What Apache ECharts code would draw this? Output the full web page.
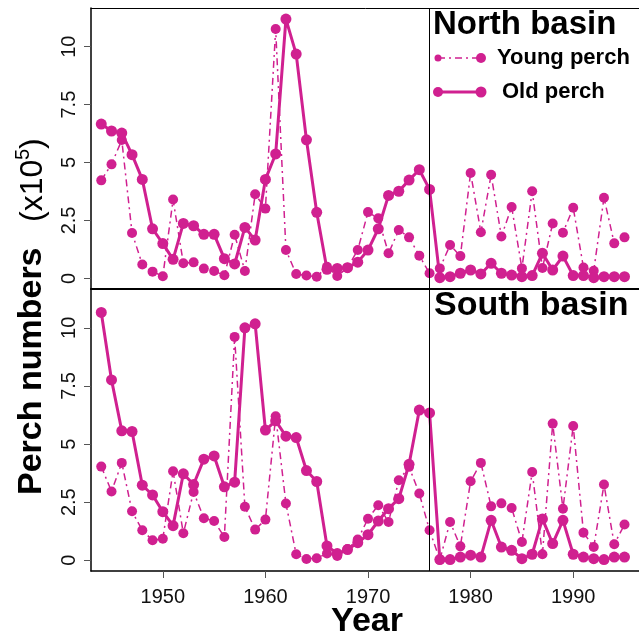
<!DOCTYPE html>
<html>
<head>
<meta charset="utf-8">
<script src="https://cdn.jsdelivr.net/npm/echarts@6/dist/echarts.min.js"></script>
<style>
  html, body { margin: 0; padding: 0; background: #fff; }
  #chart { width: 639px; height: 637px; }
</style>
</head>
<body>
<div id="chart"></div>
<script>
// data (perch numbers x10^5)
const years = [];
for (let y = 1944; y <= 1995; y++) years.push(y);

const northYoung = [4.23, 4.92, 5.97, 1.96, 0.60, 0.29, 0.09, 3.40, 0.65, 0.69,
  0.42, 0.32, 0.13, 1.88, 0.32, 3.63, 3.01, 10.76, 1.22, 0.19,
  0.12, 0.07, 0.50, 0.10, 0.46, 1.22, 2.86, 2.59, 1.08, 2.09,
  1.77, 0.98, 0.22, 0.43, 1.44, 0.96, 4.55, 1.99, 4.47, 1.81,
  3.08, 0.43, 3.76, 0.45, 2.37, 1.97, 3.05, 0.47, 0.33, 3.48,
  1.51, 1.77];
const northOld = [6.66, 6.36, 6.27, 5.34, 4.27, 2.14, 1.50, 0.82, 2.37, 2.27,
  1.90, 1.90, 0.85, 0.62, 2.20, 1.65, 4.27, 5.37, 11.19, 9.68,
  5.98, 2.85, 0.39, 0.43, 0.46, 0.70, 1.22, 2.14, 3.58, 3.76,
  4.24, 4.69, 3.84, 0.03, 0.07, 0.22, 0.36, 0.19, 0.65, 0.22,
  0.14, 0.07, 0.12, 1.08, 0.36, 0.96, 0.12, 0.12, 0.03, 0.07,
  0.07, 0.07];
const southYoung = [4.03, 2.96, 4.19, 2.11, 1.29, 0.86, 0.93, 3.83, 1.16, 2.94,
  1.81, 1.69, 1.00, 9.61, 2.30, 1.32, 1.75, 6.20, 2.44, 0.26,
  0.06, 0.09, 0.29, 0.19, 0.49, 0.89, 1.79, 2.37, 1.65, 3.44,
  4.02, 2.87, 1.29, 0.03, 1.65, 0.60, 3.40, 4.19, 2.32, 2.45,
  2.25, 0.79, 3.80, 0.26, 5.88, 2.22, 5.78, 1.19, 0.57, 3.26,
  0.69, 1.54];
const southOld = [10.66, 7.76, 5.57, 5.54, 3.23, 2.81, 2.09, 1.49, 3.72, 3.26,
  4.35, 4.49, 3.16, 3.36, 10.00, 10.17, 5.60, 6.00, 5.34, 5.28,
  3.86, 3.39, 0.62, 0.29, 0.46, 0.76, 1.10, 1.69, 2.22, 2.65,
  4.13, 6.46, 6.34, 0.03, 0.03, 0.14, 0.22, 0.14, 1.72, 0.57,
  0.43, 0.07, 0.26, 1.78, 0.72, 1.72, 0.26, 0.14, 0.07, 0.03,
  0.14, 0.14];

const xTicks = [1950, 1960, 1970, 1980, 1990];
const yTicks = [0, 2.5, 5, 7.5, 10];
const breakYear = 1976;

const pink = '#D02090';
const font = '"Liberation Sans", Arial, sans-serif';
const youngDash = [7, 4, 2, 4];

const pairs = (vals) => years.map((y, i) => [y, vals[i]]);

function xAxisFor(idx, labels, pos, lineWidth) {
  return {
    type: 'value', gridIndex: idx, min: 1943, max: 1996.9, position: pos,
    axisLine: { show: true, onZero: false, lineStyle: { color: '#000', width: lineWidth } },
    splitLine: { show: false },
    axisTick: { show: labels, customValues: xTicks, length: 7, lineStyle: { color: '#555' } },
    axisLabel: { show: labels, customValues: xTicks, margin: 16, color: '#111', fontSize: 20, fontFamily: font,
      formatter: (v) => String(v) }
  };
}

function yAxisFor(idx) {
  return {
    type: 'value', gridIndex: idx, min: -0.46, max: 11.67,
    axisLine: { show: true, onZero: false, lineStyle: { color: '#000', width: 1.5 } },
    splitLine: { show: false },
    axisTick: { show: true, customValues: yTicks, length: 7, lineStyle: { color: '#555' } },
    axisLabel: { customValues: yTicks, rotate: 90, margin: 12, color: '#111', fontSize: 20, fontFamily: font }
  };
}

function youngSeries(idx, vals) {
  return {
    type: 'line', xAxisIndex: idx, yAxisIndex: idx, data: pairs(vals),
    symbol: 'circle', symbolSize: 10, color: pink,
    lineStyle: { color: pink, width: 1.5, type: youngDash },
    itemStyle: { color: pink },
    z: 3,
    markLine: {
      silent: true, symbol: 'none', label: { show: false },
      lineStyle: { color: '#000', width: 1, type: 'solid' },
      data: [{ xAxis: breakYear }]
    }
  };
}

function oldSeries(idx, vals) {
  return {
    type: 'line', xAxisIndex: idx, yAxisIndex: idx, data: pairs(vals),
    symbol: 'circle', symbolSize: 11, color: pink,
    lineStyle: { color: pink, width: 3 },
    itemStyle: { color: pink },
    z: 4
  };
}

function txt(x, y, text, f, opts) {
  return Object.assign({
    type: 'text', x: x, y: y,
    style: { text: text, font: f, fill: '#000', textAlign: 'left', align: 'left',
      textVerticalAlign: 'middle', verticalAlign: 'middle' }
  }, opts || {});
}

const chart = echarts.init(document.getElementById('chart'), null, { renderer: 'canvas' });
chart.setOption({
  animation: false,
  backgroundColor: '#fff',
  grid: [
    { left: 91, top: 8, width: 553, height: 281, outerBoundsMode: 'none', containLabel: false },
    { left: 91, top: 289, width: 553, height: 282, outerBoundsMode: 'none', containLabel: false }
  ],
  xAxis: [
    xAxisFor(0, false, 'bottom', 2),
    xAxisFor(1, true, 'bottom', 1.5),
    xAxisFor(0, false, 'top', 1)
  ],
  yAxis: [yAxisFor(0), yAxisFor(1)],
  series: [
    youngSeries(0, northYoung), oldSeries(0, northOld),
    youngSeries(1, southYoung), oldSeries(1, southOld)
  ],
  graphic: [
    txt(433, 25, 'North basin', 'bold 33px ' + font),
    txt(434, 306, 'South basin', 'bold 34px ' + font),
    // legend
    { type: 'line', shape: { x1: 438, y1: 58, x2: 481, y2: 58 },
      style: { stroke: pink, lineWidth: 1.5, lineDash: youngDash } },
    { type: 'circle', shape: { cx: 438, cy: 58, r: 3.5 }, style: { fill: pink } },
    { type: 'circle', shape: { cx: 481, cy: 58, r: 5 }, style: { fill: pink } },
    txt(497, 58, 'Young perch', 'bold 22px ' + font),
    { type: 'line', shape: { x1: 438, y1: 92, x2: 481, y2: 92 },
      style: { stroke: pink, lineWidth: 3 } },
    { type: 'circle', shape: { cx: 438, cy: 92, r: 5 }, style: { fill: pink } },
    { type: 'circle', shape: { cx: 481, cy: 92, r: 5.5 }, style: { fill: pink } },
    txt(502, 92, 'Old perch', 'bold 22px ' + font),
    // axis titles
    { type: 'text', x: 367, y: 622,
      style: { text: 'Year', font: 'bold 34px ' + font, fill: '#000', textAlign: 'center', align: 'center',
        textVerticalAlign: 'middle', verticalAlign: 'middle' } },
    txt(32, 495, 'Perch numbers', 'bold 34px ' + font, { rotation: Math.PI / 2 }),
    txt(33, 222, '(x10', '32px ' + font, { rotation: Math.PI / 2 }),
    txt(23, 160, '5', '20px ' + font, { rotation: Math.PI / 2 }),
    txt(33, 149, ')', '32px ' + font, { rotation: Math.PI / 2 })
  ]
});
</script>
</body>
</html>
